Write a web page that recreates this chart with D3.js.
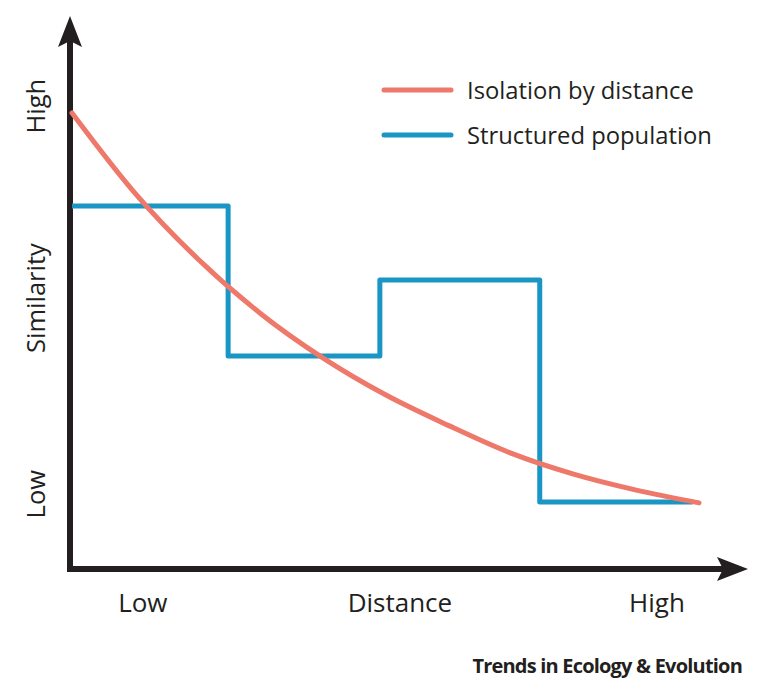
<!DOCTYPE html>
<html>
<head>
<meta charset="utf-8">
<script src="https://cdn.jsdelivr.net/npm/d3@7"></script>
<style>
html,body{margin:0;padding:0;background:#fff;}
svg{display:block;}
text{font-family:"Open Sans",sans-serif;fill:#231f20;}
</style>
</head>
<body>
<svg id="chart" width="767" height="698"></svg>
<script>
// Data (distance 0..10, similarity 0..10)
const ibdDistance = [0, 1, 2, 3, 4, 5, 6, 7, 8, 9, 10];
const ibdSimilarity = [10, 8.25, 6.81, 5.61, 4.63, 3.82, 3.15, 2.54, 2.08, 1.73, 1.45];
const structDistance = [0, 2.49, 4.91, 7.46, 9.9];
const structSimilarity = [7.96, 4.67, 6.34, 1.47, 1.47];
const xTickLabels = ["Low", "Distance", "High"];
const xTickPos = [1.13, 5.23, 9.33];
const yTickLabels = ["Low", "Similarity", "High"];
const yTickPos = [1.64, 5.94, 10.15];
const seriesNames = ["Isolation by distance", "Structured population"];
const seriesColors = ["#ee786a", "#1996c4"];

const svg = d3.select("#chart");
const x = d3.scaleLinear().domain([0, 10]).range([72, 699]);
const y = d3.scaleLinear().domain([0, 10]).range([569, 113]);

// Axes with arrows
const axisColor = "#231f20";
svg.append("line").attr("x1", 70).attr("x2", 70).attr("y1", 572).attr("y2", 40)
  .attr("stroke", axisColor).attr("stroke-width", 6);
svg.append("line").attr("x1", 67).attr("x2", 725).attr("y1", 569).attr("y2", 569)
  .attr("stroke", axisColor).attr("stroke-width", 6);
svg.append("path").attr("d", "M70,16 L82,47 L70,41 L58,47 Z").attr("fill", axisColor);
svg.append("path").attr("d", "M748,569 L717,581 L723,569 L717,557 Z").attr("fill", axisColor);

// Series
const ibd = ibdDistance.map((d, i) => [d, ibdSimilarity[i]]);
const struct = structDistance.map((d, i) => [d, structSimilarity[i]]);

svg.append("path")
  .attr("d", d3.line().x(d => x(d[0])).y(d => y(d[1])).curve(d3.curveStepAfter)(struct))
  .attr("fill", "none").attr("stroke", seriesColors[1]).attr("stroke-width", 5)
  .attr("stroke-linejoin", "round");

svg.append("path")
  .attr("d", d3.line().x(d => x(d[0])).y(d => y(d[1])).curve(d3.curveMonotoneX)(ibd))
  .attr("fill", "none").attr("stroke", seriesColors[0]).attr("stroke-width", 5)
  .attr("stroke-linecap", "round");

// Tick labels
svg.selectAll("text.xl").data(xTickLabels).join("text").attr("class", "xl")
  .attr("x", (d, i) => x(xTickPos[i])).attr("y", 612)
  .attr("text-anchor", "middle").attr("font-size", 26).text(d => d);
svg.selectAll("text.yl").data(yTickLabels).join("text").attr("class", "yl")
  .attr("transform", (d, i) => `translate(45,${y(yTickPos[i])}) rotate(-90)`)
  .attr("text-anchor", "middle").attr("font-size", 25.5).text(d => d);

// Legend
seriesNames.forEach((name, i) => {
  const ly = 90 + i * 45;
  svg.append("line").attr("x1", 384).attr("x2", 451).attr("y1", ly).attr("y2", ly)
    .attr("stroke", seriesColors[i]).attr("stroke-width", 5).attr("stroke-linecap", "round");
  svg.append("text").attr("x", 467).attr("y", ly + 9).attr("font-size", 23.8).text(name);
});

// Footer
svg.append("text").attr("x", 742).attr("y", 673).attr("text-anchor", "end")
  .attr("font-family", "Liberation Sans, Arial, sans-serif").attr("font-weight", "bold")
  .attr("font-size", 20).attr("letter-spacing", -0.8).text("Trends in Ecology & Evolution");
</script>
</body>
</html>
